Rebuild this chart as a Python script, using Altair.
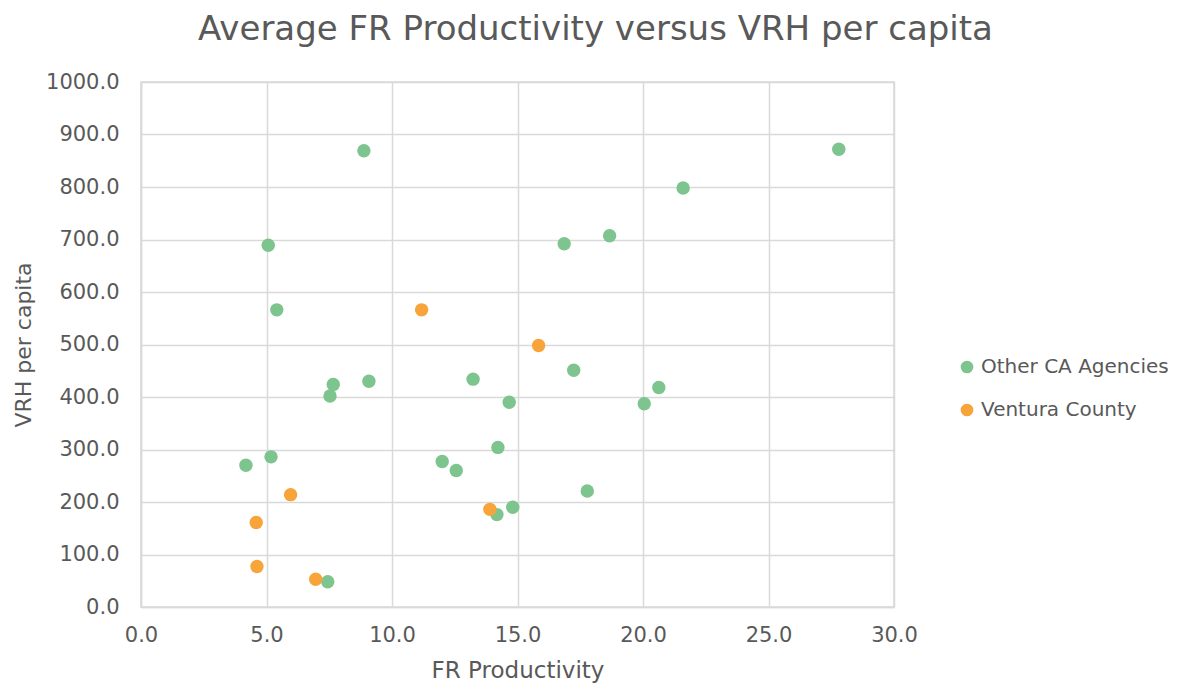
import altair as alt
import pandas as pd

other_x = [8.88, 5.07, 5.41, 27.8, 21.6, 18.67, 16.86, 17.24, 20.63, 20.05, 14.67, 17.78,
           14.81, 7.66, 7.53, 9.08, 13.23, 14.22, 12.0, 12.56, 5.18, 4.18, 7.44, 14.18]
other_y = [869, 689, 566, 872, 798, 707, 692, 451, 418, 387, 390, 221,
           190, 424, 402, 430, 434, 304, 277, 260, 286, 270, 48, 176]
ventura_x = [11.18, 15.84, 5.96, 4.59, 4.62, 6.96, 13.9]
ventura_y = [566, 498, 214, 161, 77, 53, 186]

series = ["Other CA Agencies", "Ventura County"]
colors = ["#7DC48E", "#F7A43A"]

df = pd.concat([
    pd.DataFrame({"x": other_x, "y": other_y, "s": series[0], "o": 0}),
    pd.DataFrame({"x": ventura_x, "y": ventura_y, "s": series[1], "o": 1}),
])

FONT = "DejaVu Sans"
GREY = "#595959"

chart = alt.Chart(df).mark_circle(size=180, opacity=1).encode(
    x=alt.X("x:Q", scale=alt.Scale(domain=[0, 30], nice=False),
            axis=alt.Axis(values=[0, 5, 10, 15, 20, 25, 30], format=".1f",
                          title="FR Productivity", titlePadding=14, labelFlush=False)),
    y=alt.Y("y:Q", scale=alt.Scale(domain=[0, 1000], nice=False),
            axis=alt.Axis(values=list(range(0, 1001, 100)), format=".1f",
                          title="VRH per capita", titlePadding=10)),
    color=alt.Color("s:N", scale=alt.Scale(domain=series, range=colors),
                    legend=alt.Legend(title=None, orient="none", legendX=816, legendY=275,
                                      symbolSize=160, symbolType="circle",
                                      labelFontSize=20, labelColor=GREY, labelFont=FONT,
                                      rowPadding=23, labelOffset=4, labelLimit=400)),
    order=alt.Order("o:Q"),
).properties(
    width=753, height=525,
    title=alt.TitleParams("Average FR Productivity versus VRH per capita", fontSize=34,
                          font=FONT, color=GREY, fontWeight="normal", dx=78, offset=24),
    autosize=alt.AutoSizeParams(type="none"),
    padding={"left": 133, "top": 74, "right": 290, "bottom": 82},
).configure_view(stroke="#D9D9D9", strokeWidth=1.5).configure_axis(
    gridColor="#D9D9D9", gridWidth=1.5, domainColor="#D9D9D9", domainWidth=1.5,
    ticks=False, labelFont=FONT, titleFont=FONT, labelFontSize=21, titleFontSize=22,
    labelColor=GREY, titleColor=GREY, titleFontWeight="normal",
).configure_axisX(labelPadding=17, titleFontSize=23).configure_axisY(labelPadding=22)

chart.save("out.html", embed_options={"renderer": "svg", "actions": False})
